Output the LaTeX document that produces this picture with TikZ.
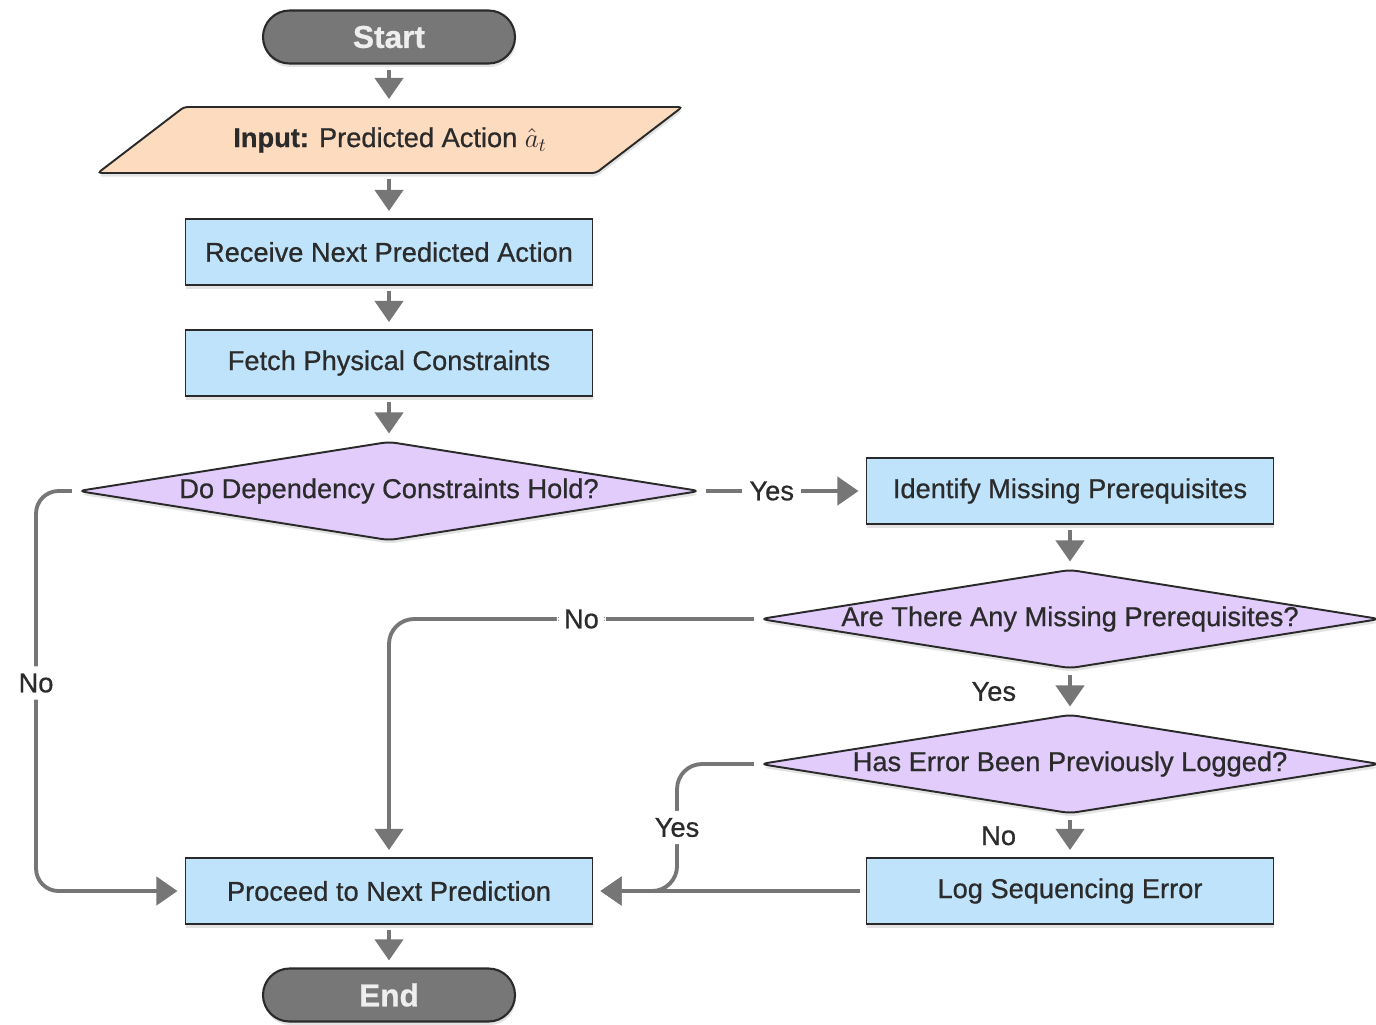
\RequirePackage{fix-cm}
\documentclass[tikz,border=0pt]{standalone}
\usepackage{fontspec}
\setmainfont{Liberation Sans}[FakeBold=0.7]
\usetikzlibrary{arrows.meta,shapes.geometric,shadows}
\definecolor{linegray}{HTML}{767676}
\definecolor{edgedark}{HTML}{2A2A2A}
\definecolor{txtdark}{HTML}{2B2B2B}
\definecolor{termgray}{HTML}{777777}
\definecolor{termtext}{HTML}{EEEEEE}
\definecolor{inpeach}{HTML}{FDDBBF}
\definecolor{procblue}{HTML}{BEE3FA}
\definecolor{decpurple}{HTML}{E2CCFB}

\begin{document}
\begin{tikzpicture}[
    font=\fontsize{15.5}{18}\selectfont,
    softshadow/.style={drop shadow={shadow xshift=0.5pt, shadow yshift=-2pt, opacity=0.22}},
    terminal/.style={draw=edgedark, line width=1.2pt, fill=termgray, text=termtext,
      rounded corners=0.53cm, minimum width=5.04cm, minimum height=1.06cm,
      font=\fontsize{18}{20}\selectfont\bfseries, softshadow},
    io/.style={trapezium, trapezium left angle=28.6, trapezium right angle=151.4,
      trapezium stretches=true,
      draw=edgedark, line width=1.1pt, fill=inpeach, text=txtdark,
      minimum width=11.72cm, minimum height=1.32cm, rounded corners=2pt, softshadow},
    procbox/.style={rectangle, draw=edgedark, line width=1.1pt, fill=procblue, text=txtdark,
      minimum width=8.14cm, minimum height=1.32cm, softshadow},
    decision/.style={diamond, draw=edgedark, line width=1.1pt, fill=decpurple, text=txtdark,
      minimum width=12.4cm, minimum height=1.98cm, rounded corners=4pt, softshadow},
    flow/.style={draw=linegray, line width=2.2pt, shorten >=4pt, shorten <=3pt,
      -{Triangle[width=16pt,length=12pt]}},
    lbl/.style={fill=white, text=txtdark, inner sep=4pt}
  ]
    \useasboundingbox (0,0) rectangle (27.52,-20.48);

    \node[terminal] (start) at (7.78,-0.74) {Start};
    \node[io] (input) at (7.80,-2.80) {\textbf{Input:} Predicted Action $\hat{a}_t$};
    \node[procbox] (receive) at (7.78,-5.04) {Receive Next Predicted Action};
    \node[procbox] (fetch) at (7.78,-7.26) {Fetch Physical Constraints};
    \node[decision, minimum width=12.44cm] (hold) at (7.78,-9.82)
      {\makebox[0pt]{Do Dependency Constraints Hold?}};
    \node[procbox] (identify) at (21.40,-9.82) {Identify Missing Prerequisites};
    \node[decision] (missing) at (21.40,-12.38)
      {\makebox[0pt]{Are There Any Missing Prerequisites?}};
    \node[decision] (logged) at (21.40,-15.28)
      {\makebox[0pt]{Has Error Been Previously Logged?}};
    \node[procbox] (logerr) at (21.40,-17.82) {Log Sequencing Error};
    \node[procbox] (proceed) at (7.78,-17.82) {Proceed to Next Prediction};
    \node[terminal] (end) at (7.78,-19.90) {End};

    \draw[flow] (start.south) -- (start.south |- input.north);
    \draw[flow] (start.south |- input.south) -- (receive.north);
    \draw[flow] (receive.south) -- (fetch.north);
    \draw[flow] (fetch.south) -- (hold.north);
    \draw[flow] (hold.east) -- node[lbl, pos=0.43] {Yes} (identify.west);
    \draw[flow] (identify.south) -- (missing.north);
    \draw[flow] (missing.south) -- node[lbl, left=0.9cm] {Yes} (logged.north);
    \draw[flow] (logged.south) -- node[lbl, left=0.9cm] {No} (logerr.north);
    \draw[flow] (logerr.west) -- (proceed.east);
    \draw[flow] (proceed.south) -- (end.north);

    \draw[flow, rounded corners=0.45cm] (hold.west) -- ++(-0.82,0)
      |- node[lbl, pos=0.24] {No} (proceed.west);
    \draw[flow, rounded corners=0.5cm] (missing.west)
      -| node[lbl, pos=0.24] {No} (proceed.north);
    \draw[flow, rounded corners=0.5cm] (logged.west) -- ++(-1.64,0)
      |- node[lbl, pos=0.25] {Yes} (proceed.east);
  \end{tikzpicture}
\end{document}
